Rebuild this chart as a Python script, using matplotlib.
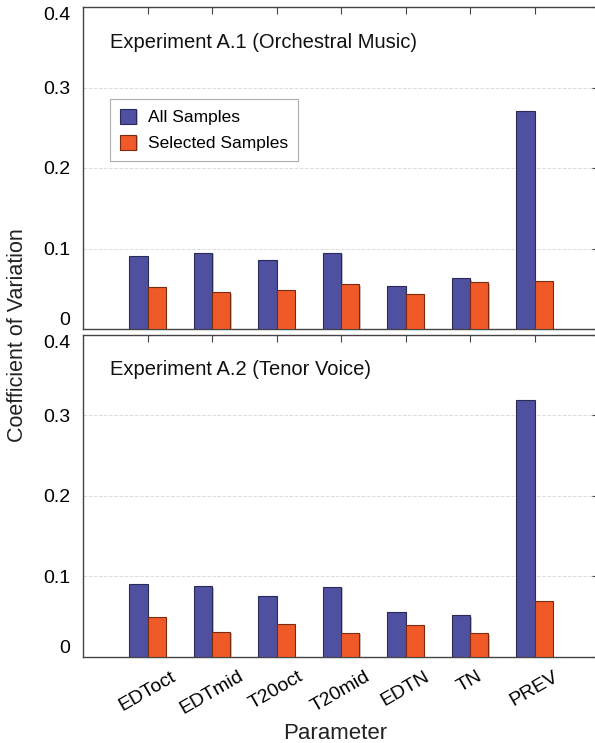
import matplotlib
matplotlib.use("Agg")
import matplotlib.pyplot as plt
import matplotlib.patheffects as pe
import numpy as np

plt.rcParams["font.family"] = ["Liberation Sans", "DejaVu Sans"]

params = ["EDToct", "EDTmid", "T20oct", "T20mid", "EDTN", "TN", "PREV"]
a1_all = [0.091, 0.095, 0.086, 0.095, 0.053, 0.063, 0.271]
a1_sel = [0.052, 0.046, 0.048, 0.056, 0.043, 0.058, 0.060]
a2_all = [0.090, 0.088, 0.076, 0.087, 0.056, 0.052, 0.319]
a2_sel = [0.049, 0.031, 0.041, 0.030, 0.039, 0.029, 0.069]
titles = ["Experiment A.1 (Orchestral Music)", "Experiment A.2 (Tenor Voice)"]
yticks = [0, 0.1, 0.2, 0.3, 0.4]
ytick_labels = ["0", "0.1", "0.2", "0.3", "0.4"]

blue = "#5050a0"
orange = "#f05a28"
shadow = [pe.SimplePatchShadow(offset=(1.2, -1.2), shadow_rgbFace="#999999", alpha=0.6), pe.Normal()]

fig = plt.figure(figsize=(5.95, 7.43), dpi=100)
ax_top = fig.add_axes([83 / 595, 1 - 329 / 743, 516 / 595, 322 / 743])
ax_bot = fig.add_axes([83 / 595, 1 - 656.7 / 743, 516 / 595, 321.7 / 743])

x = np.arange(1, len(params) + 1)
w = 0.28
for ax, all_v, sel_v, title in [(ax_top, a1_all, a1_sel, titles[0]),
                                (ax_bot, a2_all, a2_sel, titles[1])]:
    ax.bar(x - w / 2, all_v, w, color=blue, edgecolor="#2a2a5a", linewidth=0.8,
           label="All Samples", path_effects=shadow, zorder=3)
    ax.bar(x + w / 2, sel_v, w, color=orange, edgecolor="#7a2a10", linewidth=0.8,
           label="Selected Samples", path_effects=shadow, zorder=3)
    ax.set_xlim(0, 8)
    ax.set_ylim(0, 0.4)
    ax.set_yticks(yticks)
    ax.set_yticklabels(ytick_labels)
    ax.set_xticks(x)
    ax.grid(axis="y", color="#dddddd", linestyle="--", linewidth=0.7, zorder=0)
    ax.tick_params(axis="y", left=False, right=True, labelleft=True, labelright=False,
                   direction="in", length=5, color="#444444", labelsize=14, pad=9)
    ax.tick_params(axis="x", top=True, bottom=False, direction="in", length=5,
                   color="#444444", labelsize=14)
    labels = ax.get_yticklabels()
    labels[0].set_verticalalignment("bottom")
    labels[-1].set_verticalalignment("top")
    for side in ["left", "top", "bottom"]:
        ax.spines[side].set_color("#444444")
        ax.spines[side].set_linewidth(1.0)
    ax.spines["right"].set_visible(False)
    ax.text(27 / 516, 1 - (42 - 7) / 322, title, transform=ax.transAxes,
            fontsize=14.5, va="center", ha="left", color="#111111")

ax_top.tick_params(axis="x", labelbottom=False)
ax_bot.set_xticklabels(params, rotation=30, ha="center", rotation_mode="default")
ax_bot.tick_params(axis="x", pad=8)

leg = ax_top.legend(loc="upper left", bbox_to_anchor=(27 / 516, 1 - 92 / 322),
                    borderaxespad=0, fontsize=12.5, frameon=True, fancybox=False,
                    edgecolor="#999999", handlelength=0.95, handleheight=0.95,
                    borderpad=0.55, labelspacing=0.55, handletextpad=0.7)
leg.get_frame().set_linewidth(0.8)

fig.text(18 / 595, 1 - 335 / 743, "Coefficient of Variation", rotation=90,
         ha="center", va="center", fontsize=15.5, color="#222222")
fig.text(335 / 595, 1 - 739 / 743, "Parameter", ha="center", va="baseline",
         fontsize=16, color="#222222")

fig.savefig("out.png", dpi=100)
